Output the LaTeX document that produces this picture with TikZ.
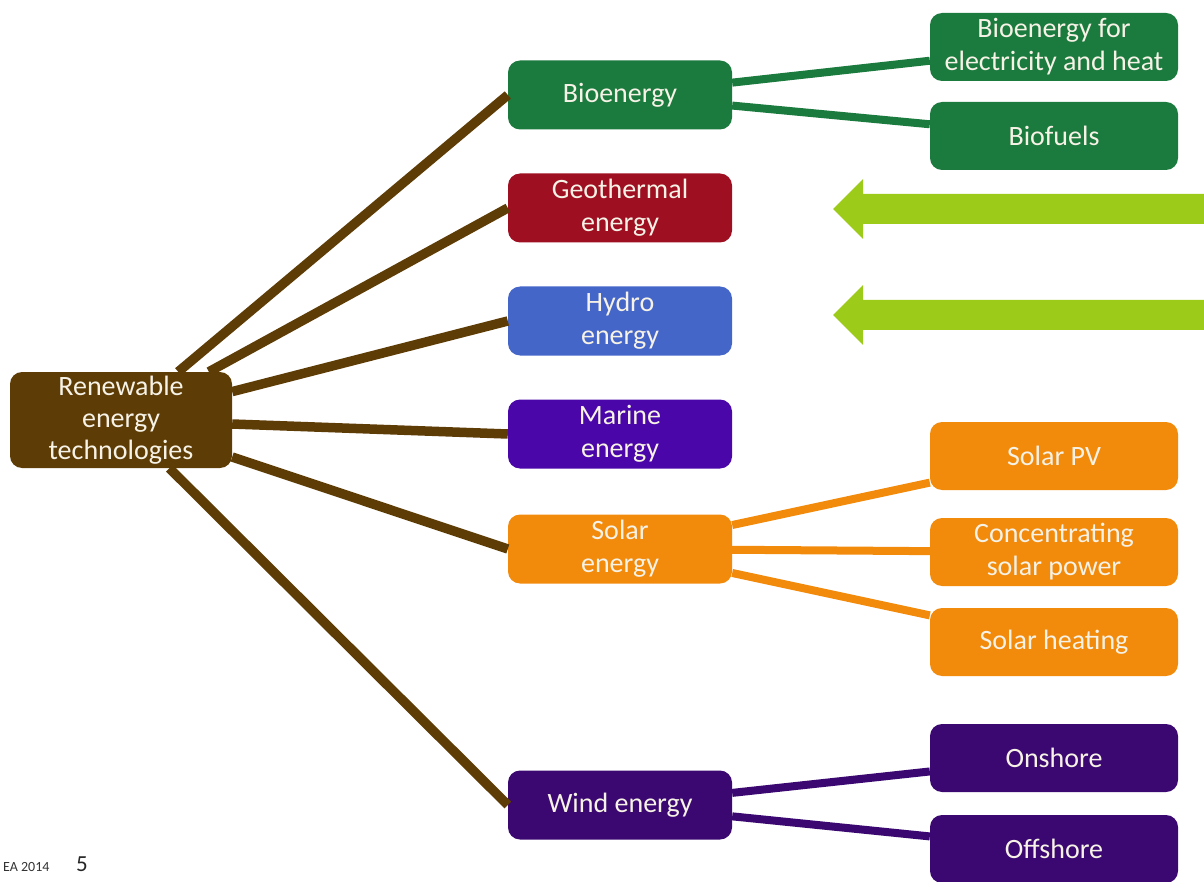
\documentclass[tikz,border=0pt]{standalone}
\usepackage{fontspec}
\setmainfont{Carlito}
\usepackage{tikz}
\usetikzlibrary{positioning}

\definecolor{rootbrown}{HTML}{5E3C06}
\definecolor{biogreen}{HTML}{1B7A3E}
\definecolor{geored}{HTML}{9E0F22}
\definecolor{hydroblue}{HTML}{4566C9}
\definecolor{marineviolet}{HTML}{4A06A8}
\definecolor{solarorange}{HTML}{F28A0C}
\definecolor{windpurple}{HTML}{3A0870}
\definecolor{arrowgreen}{HTML}{9DCB1A}
\definecolor{labelwhite}{HTML}{F6F2E6}

\begin{document}
\begin{tikzpicture}[x=1pt,y=-1pt]
    \useasboundingbox (0,0) rectangle (1204,882);
    % root
    \node[fill=rootbrown,rounded corners=12pt,minimum width=222pt,minimum height=96pt,
          text=labelwhite,align=center,font=\fontsize{28}{32}\selectfont] (ret) at (121,420)
          {Renewable\\energy\\technologies};
    % main branches
    \begin{scope}[every node/.style={rounded corners=12pt,minimum width=224pt,minimum height=69pt,
          text=labelwhite,align=center,inner sep=2pt,font=\fontsize{28}{33}\selectfont}]
    \node[fill=biogreen] (bio) at (620,95) {Bioenergy};
    \node[fill=geored] (geo) at (620,208) {Geothermal\\energy};
    \node[fill=hydroblue] (hydro) at (620,321) {Hydro\\energy};
    \node[fill=marineviolet] (marine) at (620,434) {Marine\\energy};
    \node[fill=solarorange] (solar) at (620,549) {Solar\\energy};
    \node[fill=windpurple] (wind) at (620,805) {Wind energy};
    \end{scope}
    % sub branches
    \begin{scope}[every node/.style={rounded corners=12pt,minimum width=248pt,minimum height=68pt,
          text=labelwhite,align=center,inner sep=2pt,font=\fontsize{28}{33}\selectfont}]
    \node[fill=biogreen] (bioelec) at (1054,47) {Bioenergy for\\electricity and heat};
    \node[fill=biogreen] (biofuel) at (1054,136) {Biofuels};
    \node[fill=solarorange] (pv) at (1054,456) {Solar PV};
    \node[fill=solarorange] (csp) at (1054,552) {Concentrating\\solar power};
    \node[fill=solarorange] (heat) at (1054,642) {Solar heating};
    \node[fill=windpurple] (onshore) at (1054,758) {Onshore};
    \node[fill=windpurple] (offshore) at (1054,849) {Offshore};
    \end{scope}
    \begin{scope}[every edge/.style={draw=rootbrown,line width=9.5pt}]
    \path (ret) edge (bio.west);
    \path (ret) edge (geo.west);
    \path (ret) edge (hydro.west);
    \path (ret) edge (marine.west);
    \path (ret) edge (solar.west);
    \path (ret) edge (wind.west);
    \end{scope}
    \begin{scope}[every edge/.style={draw,line width=8pt}]
    \path (bio) edge[biogreen] (bioelec);
    \path (bio) edge[biogreen] (biofuel);
    \path (solar) edge[solarorange] (pv);
    \path (solar) edge[solarorange] (csp);
    \path (solar) edge[solarorange] (heat);
    \path (wind) edge[windpurple] (onshore);
    \path (wind) edge[windpurple] (offshore);
    \end{scope}
    % block arrows
    \fill[arrowgreen] (1204,194) -- (863,194) -- (863,179) -- (833,209) -- (863,239) -- (863,224) -- (1204,224) -- cycle;
    \fill[arrowgreen] (1204,300) -- (863,300) -- (863,285) -- (833,315) -- (863,345) -- (863,330) -- (1204,330) -- cycle;
    % footer
    \node[anchor=base west,inner sep=0pt,text=black!80,font=\fontsize{14}{16}\selectfont] (ea) at (3,871) {EA 2014};
    \node[anchor=base west,inner sep=0pt,text=black!85,font=\fontsize{23}{28}\selectfont] (pg) at (76,871) {5};
\end{tikzpicture}
\end{document}
